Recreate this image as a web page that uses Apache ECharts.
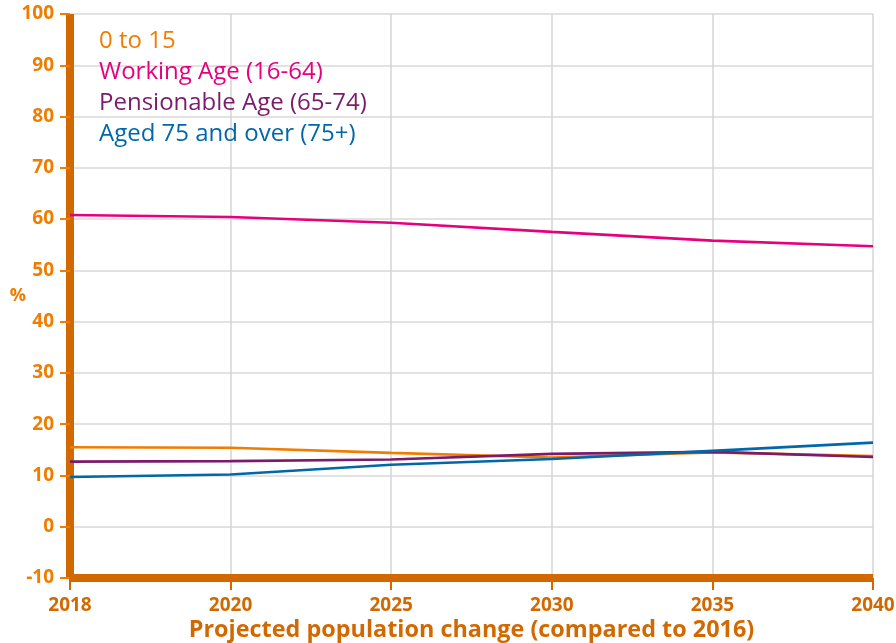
<!DOCTYPE html>
<html>
<head>
<meta charset="utf-8">
<script src="https://cdn.jsdelivr.net/npm/echarts@6/dist/echarts.min.js"></script>
<style>html,body{margin:0;padding:0;background:#fff}#c{width:896px;height:643px}</style>
</head>
<body>
<div id="c"></div>
<script>
const years = ['2018', '2020', '2025', '2030', '2035', '2040'];
const age0to15 = [15.5, 15.4, 14.4, 13.5, 14.5, 13.8];
const workingAge = [60.8, 60.4, 59.3, 57.5, 55.8, 54.7];
const pensionable = [12.7, 12.8, 13.1, 14.2, 14.6, 13.6];
const aged75 = [9.7, 10.2, 12.1, 13.2, 14.8, 16.4];
const seriesNames = ['0 to 15', 'Working Age (16-64)', 'Pensionable Age (65-74)', 'Aged 75 and over (75+)'];
const colors = ['#F07D00', '#E6007E', '#7A1B6C', '#0068A8'];
const values = [age0to15, workingAge, pensionable, aged75];

const FONT = 'Open Sans';
const chart = echarts.init(document.getElementById('c'));
chart.setOption({
  animation: false,
  textStyle: {fontFamily: FONT},
  grid: {left: 70, right: 23, top: 14, bottom: 65, containLabel: false, outerBoundsMode: 'none'},
  legend: {
    orient: 'vertical', left: 89, top: 24, icon: 'none', itemWidth: 0, itemHeight: 10, itemGap: 7,
    textStyle: {fontFamily: FONT, fontSize: 24, lineHeight: 24, padding: 0},
    data: seriesNames.map((n, i) => ({name: n, textStyle: {color: colors[i]}}))
  },
  xAxis: {
    type: 'category', data: years, boundaryGap: false,
    name: 'Projected population change (compared to 2016)', nameLocation: 'middle', nameGap: 41,
    nameMoveOverlap: false,
    nameTextStyle: {fontFamily: FONT, fontSize: 23.4, fontWeight: 'bold', color: '#D26900'},
    axisLine: {onZero: false, lineStyle: {color: '#D26900', width: 8, cap: 'butt'}},
    axisTick: {show: true, length: 12, lineStyle: {color: '#D26900', width: 2}},
    axisLabel: {fontFamily: FONT, fontSize: 19, fontWeight: 'bold', color: '#D26900', margin: 18},
    splitLine: {show: true, lineStyle: {color: '#d4d4d4', width: 1.5}}
  },
  yAxis: {
    type: 'value', min: -10, max: 100, interval: 10,
    name: '%', nameLocation: 'middle', nameGap: 44, nameRotate: 0, nameMoveOverlap: false,
    nameTextStyle: {fontFamily: FONT, fontSize: 18, fontWeight: 'bold', color: '#F07D00'},
    axisLine: {show: true, onZero: false, lineStyle: {color: '#D26900', width: 8, cap: 'butt'}},
    axisTick: {show: true, length: 10, lineStyle: {color: '#F07D00', width: 2}},
    axisLabel: {fontFamily: FONT, fontSize: 19, fontWeight: 'bold', color: '#F07D00', margin: 16},
    splitLine: {show: true, lineStyle: {color: '#e2e2e2', width: 2}}
  },
  series: seriesNames.map((n, i) => ({
    name: n, type: 'line', data: values[i], symbol: 'none',
    lineStyle: {color: colors[i], width: 2.6}, itemStyle: {color: colors[i]}
  }))
});
</script>
</body>
</html>
